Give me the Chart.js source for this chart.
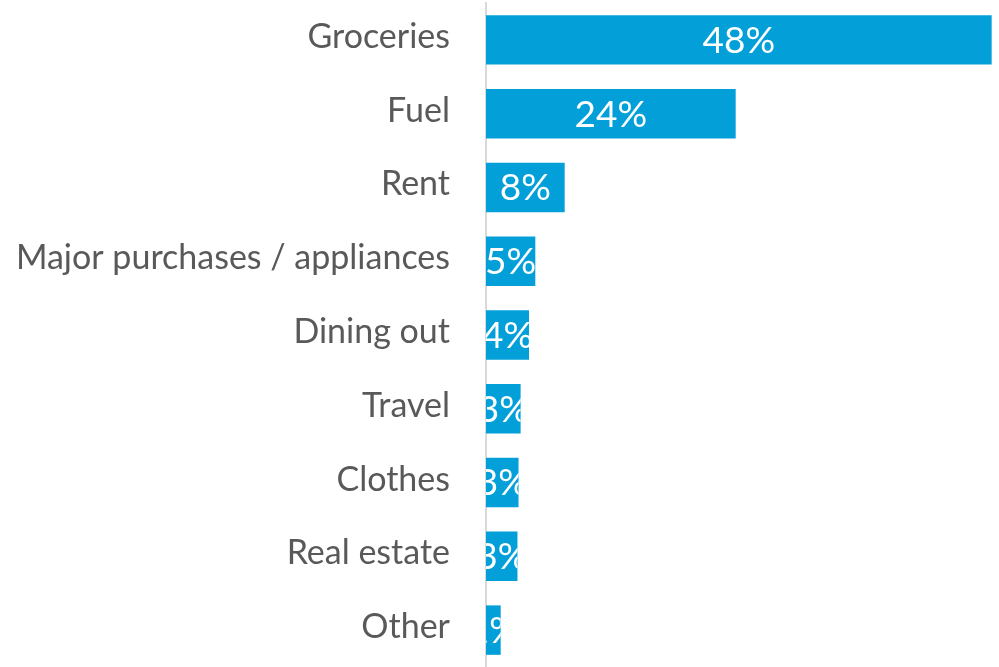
<!DOCTYPE html>
<html>
<head>
<meta charset="utf-8">
<script src="https://cdn.jsdelivr.net/npm/chart.js@4/dist/chart.umd.min.js"></script>
<style>
    html, body { margin: 0; padding: 0; background: #ffffff; }
    #wrap { width: 999px; height: 667px; }
</style>
</head>
<body>
<div id="wrap"><canvas id="spendChart"></canvas></div>
<script>
// Categories and share of spending (%)
const categories = ['Groceries', 'Fuel', 'Rent', 'Major purchases / appliances', 'Dining out',
    'Travel', 'Clothes', 'Real estate', 'Other'];
const shares = [48.2, 23.8, 7.5, 4.7, 4.1, 3.3, 3.1, 3.0, 1.4];

const barColor = '#029fd9';
const textColor = '#595959';

// Draws the value inside each bar, clipped to the bar itself
const barValueLabels = {
    id: 'barValueLabels',
    afterDatasetsDraw(chart) {
        const ctx = chart.ctx;
        const meta = chart.getDatasetMeta(0);
        meta.data.forEach((bar, i) => {
            const left = Math.min(bar.base, bar.x);
            const width = Math.abs(bar.x - bar.base);
            const top = bar.y - bar.height / 2;
            ctx.save();
            ctx.beginPath();
            ctx.rect(left, top, width, bar.height);
            ctx.clip();
            ctx.fillStyle = '#ffffff';
            ctx.font = '37px Lato';
            ctx.textAlign = 'center';
            ctx.textBaseline = 'middle';
            ctx.fillText(Math.round(shares[i]) + '%', left + width / 2, bar.y + 1);
            ctx.restore();
        });
    }
};

new Chart(document.getElementById('spendChart'), {
    type: 'bar',
    data: {
        labels: categories,
        datasets: [{
            data: shares,
            backgroundColor: barColor,
            borderWidth: 0,
            barPercentage: 0.67,
            categoryPercentage: 1,
        }]
    },
    options: {
        indexAxis: 'y',
        responsive: true,
        maintainAspectRatio: false,
        animation: false,
        layout: { padding: { top: 3, right: 0, bottom: 0, left: 0 } },
        plugins: {
            legend: { display: false },
            tooltip: { enabled: false },
        },
        scales: {
            x: {
                display: false,
                min: 0,
                max: 48.9,
            },
            y: {
                afterFit(scale) {
                    scale.width = 486;
                    scale.paddingTop = 0;
                    scale.paddingBottom = 0;
                },
                grid: { display: false, drawTicks: false },
                border: { display: true, color: '#d9d9d9', width: 2 },
                ticks: {
                    color: textColor,
                    padding: 36,
                    labelOffset: -3,
                    font: { family: 'Lato', size: 34 },
                }
            }
        }
    },
    plugins: [barValueLabels]
});
</script>
</body>
</html>
